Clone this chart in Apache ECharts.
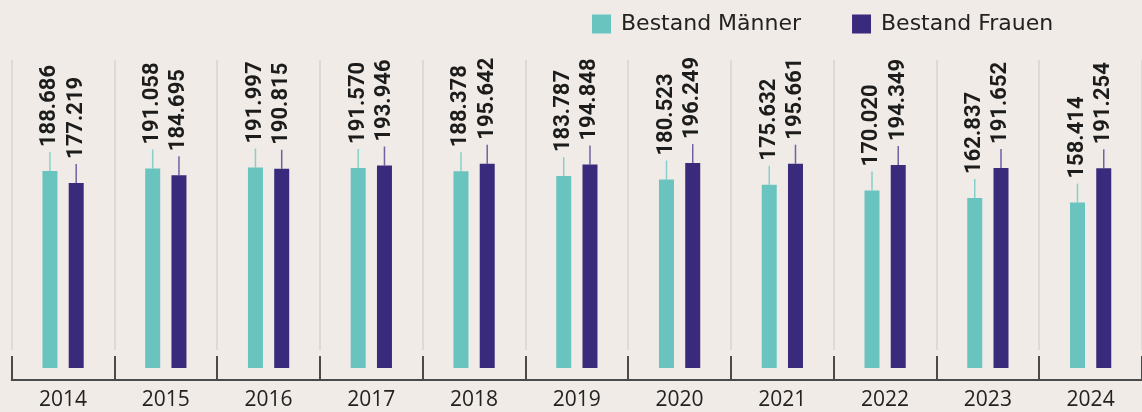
<!DOCTYPE html>
<html>
<head>
<meta charset="utf-8">
<script src="https://cdn.jsdelivr.net/npm/echarts@6/dist/echarts.min.js"></script>
<style>
  html, body { margin: 0; padding: 0; background: #f0ebe6; }
  #chart { width: 1142px; height: 412px; }
</style>
</head>
<body>
<div id="chart"></div>
<script>
const years = ['2014', '2015', '2016', '2017', '2018', '2019', '2020', '2021', '2022', '2023', '2024'];
const maenner = [188686, 191058, 191997, 191570, 188378, 183787, 180523, 175632, 170020, 162837, 158414];
const frauen = [177219, 184695, 190815, 193946, 195642, 194848, 196249, 195661, 194349, 191652, 191254];

const tealColor = '#69c4c0';
const purpleColor = '#3a2a7b';
const barW = 15;
const barGapPx = 11.25;

// 188686 -> "188.686"
function fmt(v) {
  return String(v).replace(/\B(?=(\d{3})+(?!\d))/g, '.');
}

const valueLabel = {
  show: true,
  position: 'top',
  distance: 24,
  rotate: 90,
  align: 'left',
  verticalAlign: 'middle',
  fontFamily: 'Roboto',
  fontWeight: 'bold',
  fontSize: 22,
  color: '#1c1c1c',
  formatter: p => fmt(p.value)
};

const chart = echarts.init(document.getElementById('chart'));

chart.setOption({
  backgroundColor: '#f0ebe6',
  animation: false,
  legend: {
    data: ['Bestand Männer', 'Bestand Frauen'],
    left: 592,
    top: 13,
    padding: 0,
    icon: 'rect',
    itemWidth: 19,
    itemHeight: 19,
    itemGap: 51,
    textStyle: { fontFamily: 'DejaVu Sans', fontSize: 22, color: '#222', padding: [0, 0, 0, 5] }
  },
  grid: [
    { left: 11.7, width: 1137.4, top: 60, bottom: 44 },
    { left: 11.7, width: 1137.4, top: 60, height: 290 }
  ],
  xAxis: [
    {
      type: 'category',
      gridIndex: 0,
      data: years,
      offset: 12,
      axisLine: { show: true, onZero: false, lineStyle: { color: '#4a4a4a', width: 2 } },
      axisTick: { show: true, inside: true, length: 24, lineStyle: { color: '#4a4a4a', width: 2 } },
      axisLabel: { margin: 10, fontFamily: 'Open Sans', fontSize: 21, color: '#222' },
      splitLine: { show: false }
    },
    {
      type: 'category',
      gridIndex: 1,
      data: years,
      axisLine: { show: false },
      axisTick: { show: false },
      axisLabel: { show: false },
      splitLine: { show: true, lineStyle: { color: '#d8d3ce', width: 1.5 } }
    }
  ],
  yAxis: [
    { type: 'value', gridIndex: 0, min: 0, max: 295000, show: false },
    { type: 'value', gridIndex: 1, show: false }
  ],
  series: [
    {
      name: 'Bestand Männer',
      type: 'bar',
      data: maenner,
      barWidth: barW,
      barGap: (barGapPx / barW * 100) + '%',
      itemStyle: { color: tealColor },
      label: valueLabel
    },
    {
      name: 'Bestand Frauen',
      type: 'bar',
      data: frauen,
      barWidth: barW,
      itemStyle: { color: purpleColor },
      label: valueLabel
    },
    {
      // leader lines from bar top to label
      type: 'custom',
      data: years.map((y, i) => [i, maenner[i], frauen[i]]),
      silent: true,
      z: 1,
      renderItem: function (params, api) {
        const i = api.value(0);
        const off = (barW + barGapPx) / 2;
        const pm = api.coord([i, api.value(1)]);
        const pf = api.coord([i, api.value(2)]);
        return {
          type: 'group',
          children: [
            {
              type: 'line',
              shape: { x1: pm[0] - off, y1: pm[1], x2: pm[0] - off, y2: pm[1] - 19 },
              style: { stroke: '#86d0cc', lineWidth: 1.5 }
            },
            {
              type: 'line',
              shape: { x1: pf[0] + off, y1: pf[1], x2: pf[0] + off, y2: pf[1] - 19 },
              style: { stroke: '#6e62a3', lineWidth: 1.5 }
            }
          ]
        };
      }
    }
  ]
});
</script>
</body>
</html>
